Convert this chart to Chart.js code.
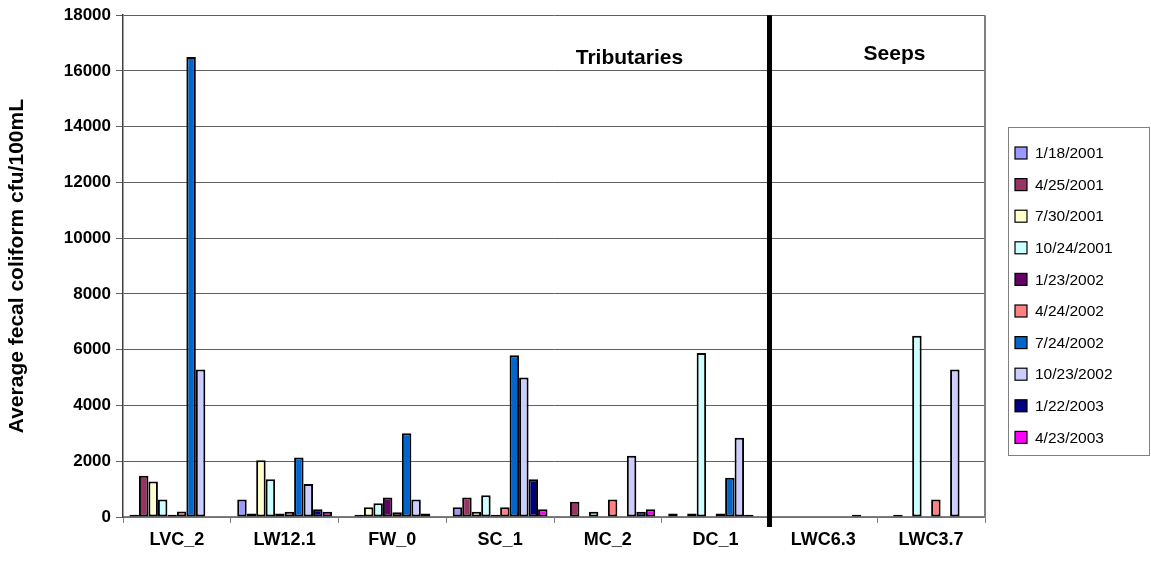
<!DOCTYPE html>
<html>
<head>
<meta charset="utf-8">
<script src="https://cdn.jsdelivr.net/npm/chart.js@4"></script>
<style>
html,body{margin:0;padding:0;background:#fff;}
#wrap{width:1151px;height:565px;position:relative;}
</style>
</head>
<body>
<div id="wrap"><canvas id="c" width="1151" height="565"></canvas></div>
<script>
const categories = ["LVC_2", "LW12.1", "FW_0", "SC_1", "MC_2", "DC_1", "LWC6.3", "LWC3.7"];
const seriesNames = ["1/18/2001", "4/25/2001", "7/30/2001", "10/24/2001", "1/23/2002", "4/24/2002", "7/24/2002", "10/23/2002", "1/22/2003", "4/23/2003"];
const yTicks = [0, 2000, 4000, 6000, 8000, 10000, 12000, 14000, 16000, 18000];

const s_2001_01_18 = [80, 630, null, 350, null, 130, null, null];
const s_2001_04_25 = [1480, 130, 80, 700, 550, null, null, 80];
const s_2001_07_30 = [1270, 2040, 350, 190, null, 130, null, null];
const s_2001_10_24 = [630, 1350, 490, 780, 190, 5880, null, 6500];
const s_2002_01_23 = [80, 130, 700, 80, null, null, null, null];
const s_2002_04_24 = [200, 190, 170, 350, 630, 130, null, 630];
const s_2002_07_24 = [16500, 2130, 3000, 5800, null, 1410, null, null];
const s_2002_10_23 = [5290, 1180, 630, 5000, 2200, 2840, null, 5290];
const s_2003_01_22 = [null, 280, 130, 1350, 190, 80, 80, null];
const s_2003_04_23 = [null, 190, null, 280, 280, null, null, null];

const seriesValues = [s_2001_01_18, s_2001_04_25, s_2001_07_30, s_2001_10_24, s_2002_01_23,
                      s_2002_04_24, s_2002_07_24, s_2002_10_23, s_2003_01_22, s_2003_04_23];
const seriesColors = ["#9999FF", "#993366", "#FFFFCC", "#CCFFFF", "#660066",
                      "#FF8080", "#0066CC", "#CCCCFF", "#000080", "#FF00FF"];

const regionLabels = ["Tributaries", "Seeps"];
const regionLabelX = [4.2, 6.66];
const regionLabelY = [16450, 16600];

const FONT = "'Liberation Sans', Arial, sans-serif";

const extras = {
  id: 'extras',
  afterDatasetsDraw(chart) {
    const ctx = chart.ctx;
    const a = chart.chartArea;
    const xs = chart.scales.x, ys = chart.scales.y;
    ctx.save();
    ctx.strokeStyle = '#808080';
    ctx.lineWidth = 2;
    ctx.beginPath();
    ctx.moveTo(a.right, a.top);
    ctx.lineTo(a.right, a.bottom);
    ctx.stroke();
    const sx = (xs.getPixelForValue(5) + xs.getPixelForValue(6)) / 2;
    ctx.strokeStyle = '#000';
    ctx.lineWidth = 5;
    ctx.beginPath();
    ctx.moveTo(sx, a.top);
    ctx.lineTo(sx, a.bottom + 10);
    ctx.stroke();
    ctx.fillStyle = '#000';
    ctx.font = 'bold 21px ' + FONT;
    ctx.textAlign = 'center';
    ctx.textBaseline = 'middle';
    regionLabels.forEach((t, i) => {
      const px = xs.left + (regionLabelX[i] + 0.5) * (xs.width / categories.length);
      ctx.fillText(t, px, ys.getPixelForValue(regionLabelY[i]));
    });
    const lx = 1008, ly = 127, lw = 141, lh = 328;
    ctx.fillStyle = '#fff';
    ctx.fillRect(lx, ly, lw, lh);
    ctx.strokeStyle = '#808080';
    ctx.lineWidth = 1;
    ctx.strokeRect(lx + 0.5, ly + 0.5, lw, lh);
    ctx.font = '15.5px ' + FONT;
    ctx.textAlign = 'left';
    chart.data.datasets.forEach((ds, i) => {
      const cy = ly + 26 + i * 31.6;
      ctx.fillStyle = ds.backgroundColor;
      ctx.fillRect(lx + 7, cy - 6, 12, 12);
      ctx.strokeStyle = '#000';
      ctx.lineWidth = 1.2;
      ctx.strokeRect(lx + 7, cy - 6, 12, 12);
      ctx.fillStyle = '#000';
      ctx.fillText(ds.label, lx + 27, cy + 1);
    });
    ctx.restore();
  }
};

new Chart(document.getElementById('c'), {
  type: 'bar',
  data: {
    labels: categories,
    datasets: seriesNames.map((n, i) => ({
      label: n,
      data: seriesValues[i],
      backgroundColor: seriesColors[i],
      borderColor: '#000',
      borderWidth: 2,
      borderSkipped: false,
      categoryPercentage: 0.88,
      barPercentage: 1.0
    }))
  },
  options: {
    responsive: false,
    animation: false,
    devicePixelRatio: 1,
    layout: { padding: { top: 15, right: 166, left: 0, bottom: 0 } },
    plugins: { legend: { display: false }, tooltip: { enabled: false } },
    scales: {
      x: {
        grid: { offset: true, drawOnChartArea: false, drawTicks: true, tickLength: 6, color: '#808080', lineWidth: 1 },
        border: { color: '#808080', width: 1.5 },
        ticks: { color: '#000', font: { family: FONT, size: 18, weight: 'bold' }, padding: 6, maxRotation: 0, autoSkip: false },
        afterFit(s) { s.height = 48; }
      },
      y: {
        min: 0, max: 18000,
        afterBuildTicks(s) { s.ticks = yTicks.map(v => ({ value: v })); },
        grid: { color: '#606060', lineWidth: 1, drawTicks: true, tickLength: 7 },
        border: { color: '#404040', width: 1.5 },
        ticks: { color: '#000', font: { family: FONT, size: 17, weight: 'bold' }, padding: 5, callback: v => String(v) },
        title: { display: true, text: 'Average fecal coliform cfu/100mL', color: '#000', font: { family: FONT, size: 21, weight: 'bold' }, padding: { top: 5, bottom: 0 } },
        afterFit(s) { s.width = 123; }
      }
    }
  },
  plugins: [extras]
});
</script>
</body>
</html>
